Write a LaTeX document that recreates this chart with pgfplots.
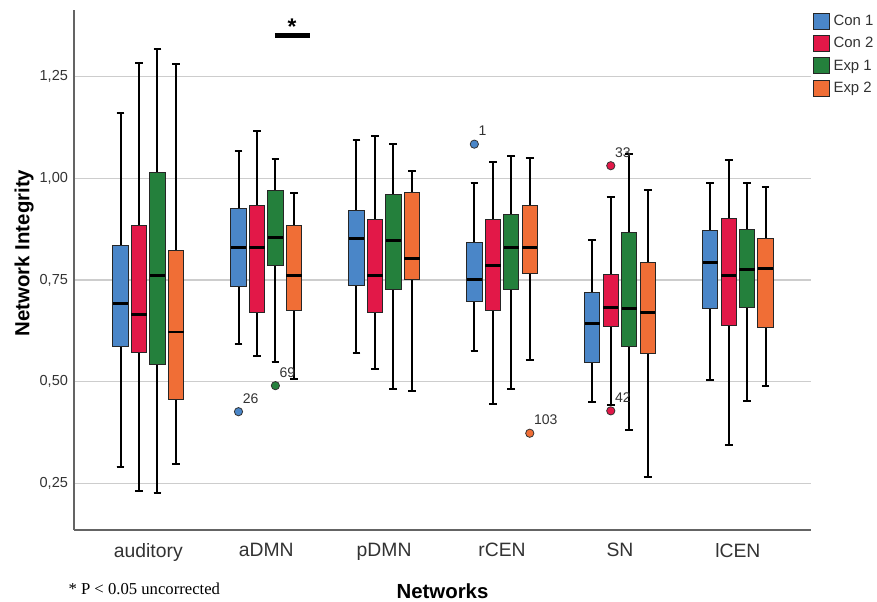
\documentclass[border=0pt]{standalone}
\usepackage{fontspec}
\setmainfont{Liberation Sans}
\newfontfamily\timesfont{Liberation Serif}
\usepackage{pgfplots}
\pgfplotsset{compat=1.18}
\usepgfplotslibrary{statistics}

\definecolor{conA}{RGB}{74,134,200}
\definecolor{conB}{RGB}{226,24,72}
\definecolor{expA}{RGB}{36,128,60}
\definecolor{expB}{RGB}{240,110,54}
\definecolor{gridgray}{RGB}{205,205,205}
\definecolor{axgray}{RGB}{100,100,100}
\definecolor{txtgray}{RGB}{50,50,50}

% one box: position, colour, lower whisker, Q1, median, Q3, upper whisker
\newcommand{\bx}[7]{\addplot[forget plot, fill=#2, draw=black!85, line width=0.7pt,
  boxplot prepared={draw position=#1, lower whisker=#3, lower quartile=#4,
  median=#5, upper quartile=#6, upper whisker=#7}] coordinates {};}

\begin{document}
\begin{tikzpicture}
\begin{axis}[
  scale only axis, width=552.75pt, height=390pt,
  xmin=-0.63, xmax=5.62, ymin=0.135, ymax=1.414,
  axis lines*=left, axis line style={axgray, line width=1.1pt},
  xtick={0,...,5}, xticklabels={auditory,aDMN,pDMN,rCEN,SN,lCEN},
  ytick={0.25,0.5,0.75,1,1.25},
  major tick length=0pt,
  ymajorgrids, major grid style={gridgray, line width=1.1pt},
  /pgf/number format/assume math mode=true,
  yticklabel style={/pgf/number format/fixed, /pgf/number format/fixed zerofill,
    /pgf/number format/precision=2, /pgf/number format/use comma,
    font=\fontsize{10.9}{12}\selectfont, text=txtgray, xshift=-1pt},
  xticklabel style={font=\fontsize{14.5}{16}\selectfont, text=txtgray, yshift=-6.5pt},
  xlabel={Networks}, ylabel={Network Integrity},
  xlabel style={font=\bfseries\fontsize{15.3}{17}\selectfont, at={(axis description cs:0.5,-0.1183)}, anchor=center},
  ylabel style={font=\bfseries\fontsize{15.3}{17}\selectfont, at={(axis description cs:-0.0678,0.5327)}, anchor=center},
  boxplot/draw direction=y,
  boxplot/box extend=0.13,
  boxplot/whisker extend=0.065,
  boxplot/every whisker/.style={black, line width=1.5pt},
  boxplot/every median/.style={black, line width=2.2pt},
  boxplot/every box/.style={draw=black!85, line width=0.7pt},
  legend image code/.code={\draw[#1, line width=0.7pt] (0pt,-6pt) rectangle (12pt,6pt);},
  legend style={at={(axis description cs:1,1)}, anchor=north west, xshift=1.5pt, yshift=-2pt,
    draw=none, fill=none, inner sep=0pt, row sep=4pt,
    font=\fontsize{11.2}{12}\selectfont, text=txtgray,
    nodes={inner xsep=2.5pt, inner ysep=0pt}},
  legend cell align=left,
]
\addlegendimage{fill=conA, draw=black!85}
\addlegendentry{Con 1}
\addlegendimage{fill=conB, draw=black!85}
\addlegendentry{Con 2}
\addlegendimage{fill=expA, draw=black!85}
\addlegendentry{Exp 1}
\addlegendimage{fill=expB, draw=black!85}
\addlegendentry{Exp 2}

% auditory
\bx{-0.235}{conA}{0.291}{0.586}{0.693}{0.835}{1.160}
\bx{-0.078}{conB}{0.231}{0.572}{0.664}{0.883}{1.284}
\bx{0.078}{expA}{0.227}{0.543}{0.762}{1.014}{1.318}
\bx{0.235}{expB}{0.297}{0.455}{0.622}{0.823}{1.280}
% aDMN
\bx{0.765}{conA}{0.592}{0.735}{0.830}{0.925}{1.067}
\bx{0.922}{conB}{0.562}{0.670}{0.830}{0.934}{1.116}
\bx{1.078}{expA}{0.549}{0.785}{0.855}{0.970}{1.048}
\bx{1.235}{expB}{0.507}{0.676}{0.762}{0.885}{0.963}
% pDMN
\bx{1.765}{conA}{0.570}{0.737}{0.853}{0.922}{1.094}
\bx{1.922}{conB}{0.530}{0.670}{0.762}{0.898}{1.105}
\bx{2.078}{expA}{0.481}{0.727}{0.846}{0.961}{1.084}
\bx{2.235}{expB}{0.476}{0.750}{0.803}{0.965}{1.017}
% rCEN
\bx{2.765}{conA}{0.576}{0.698}{0.750}{0.842}{0.989}
\bx{2.922}{conB}{0.444}{0.676}{0.785}{0.900}{1.039}
\bx{3.078}{expA}{0.481}{0.727}{0.830}{0.910}{1.054}
\bx{3.235}{expB}{0.554}{0.767}{0.829}{0.934}{1.051}
% SN
\bx{3.765}{conA}{0.449}{0.548}{0.642}{0.719}{0.848}
\bx{3.922}{conB}{0.442}{0.635}{0.683}{0.764}{0.955}
\bx{4.078}{expA}{0.381}{0.587}{0.679}{0.867}{1.060}
\bx{4.235}{expB}{0.266}{0.568}{0.670}{0.794}{0.972}
% lCEN
\bx{4.765}{conA}{0.503}{0.681}{0.793}{0.871}{0.989}
\bx{4.922}{conB}{0.344}{0.639}{0.762}{0.901}{1.045}
\bx{5.078}{expA}{0.453}{0.683}{0.775}{0.874}{0.989}
\bx{5.235}{expB}{0.488}{0.634}{0.779}{0.851}{0.979}

% outliers
\addplot[forget plot, only marks, mark=*, mark size=3.1pt, mark options={fill=conA, draw=black!80, line width=0.6pt}]
  coordinates {(0.765,0.426) (2.765,1.084)};
\addplot[forget plot, only marks, mark=*, mark size=3.1pt, mark options={fill=conB, draw=black!80, line width=0.6pt}]
  coordinates {(3.922,1.031) (3.922,0.428)};
\addplot[forget plot, only marks, mark=*, mark size=3.1pt, mark options={fill=expA, draw=black!80, line width=0.6pt}]
  coordinates {(1.078,0.490)};
\addplot[forget plot, only marks, mark=*, mark size=3.1pt, mark options={fill=expB, draw=black!80, line width=0.6pt}]
  coordinates {(3.235,0.373)};
\addplot[forget plot, only marks, mark=none, nodes near coords, point meta=explicit symbolic,
  nodes near coords style={anchor=south west, inner sep=0pt, xshift=3pt, yshift=6pt,
    font=\fontsize{10.5}{12}\selectfont, text=txtgray}]
  table[meta=lab] {
x y lab
0.765 0.426 26
1.078 0.490 69
2.765 1.084 1
3.235 0.373 103
3.922 1.031 33
3.922 0.428 42
};

% significance bar
\addplot[forget plot, black, line width=3.75pt] coordinates {(1.073,1.3506) (1.375,1.3506)};
\node[anchor=base, inner sep=0pt, font=\bfseries\fontsize{17}{18}\selectfont] at (axis cs:1.219,1.3545) {*};
\end{axis}
\node[anchor=base west, inner sep=0pt, font=\timesfont\fontsize{12.5}{14}\selectfont]
  at ([xshift=-4.3pt, yshift=-48.2pt]current axis.south west) {* P < 0.05 uncorrected};
\pgfresetboundingbox
\path[use as bounding box] ([xshift=-55.5pt, yshift=-54pt]current axis.south west)
  rectangle ([xshift=49.5pt, yshift=7.5pt]current axis.north east);
\end{tikzpicture}
\end{document}
